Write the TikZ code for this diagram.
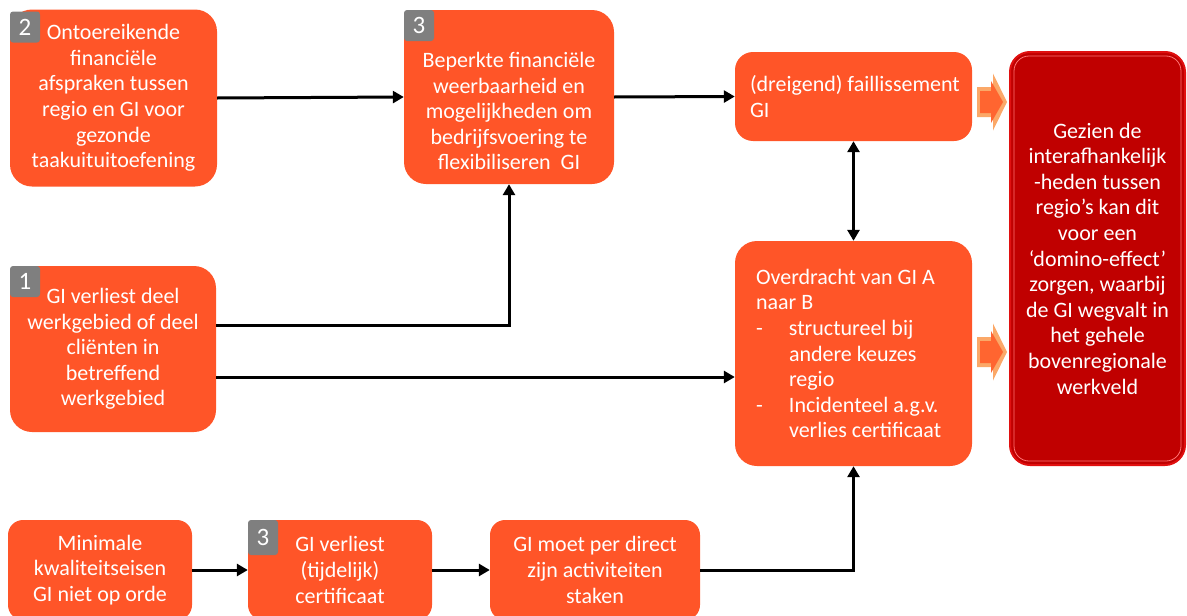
\documentclass[tikz,border=0pt]{standalone}
\usepackage{fontspec}
\setmainfont{Carlito}
\usetikzlibrary{arrows.meta}

\definecolor{boxorange}{HTML}{FF5528}
\definecolor{boxred}{HTML}{C00000}
\definecolor{redrim}{HTML}{E01010}
\definecolor{badgegray}{HTML}{7F7F7F}
\definecolor{arrowlight}{HTML}{FBA868}
\definecolor{arrowmid}{HTML}{FF6530}

\newcommand\boxfont{\fontsize{22}{25.6}\selectfont}
\newcommand\blockarrow[1]{%
  \begin{scope}[shift={(#1)}]
    \fill[arrowlight] (0,0) -- (-14,-28.5) -- (-14,-15) -- (-30,-15) -- (-30,15) -- (-14,15) -- (-14,28.5) -- cycle;
    \fill[arrowmid] (-4,0) -- (-16,-21) -- (-16,-11) -- (-27,-11) -- (-27,11) -- (-16,11) -- (-16,21) -- cycle;
  \end{scope}}

\begin{document}
\begin{tikzpicture}[x=1pt,y=-1pt,
    box/.style={rounded corners=22pt, fill=boxorange, text=white, font=\boxfont, align=center, inner sep=0pt},
    lowbox/.style={box, rounded corners=15pt, minimum width=184pt, minimum height=100pt},
    badge/.style={rounded corners=3pt, fill=badgegray, text=white, font=\fontsize{25}{25}\selectfont, minimum width=30pt, minimum height=31pt, inner sep=0pt, anchor=north west},
    conn/.style={line width=3pt, -{Triangle[length=11pt,width=12pt]}},
    dconn/.style={line width=3pt, {Triangle[length=11pt,width=12pt]}-{Triangle[length=11pt,width=12pt]}}]
\useasboundingbox (0,0) rectangle (1187,616);

% upper row
\node[box, minimum width=207pt, minimum height=177pt] (fin) at (113.5,98)
  {Ontoereikende\\financi\"ele\\afspraken tussen\\regio en GI voor\\gezonde\\taakuituitoefening};
\node[box, minimum width=210pt, minimum height=174pt] (weer) at (509,97)
  {\parbox[c][146pt][b]{204pt}{\centering Beperkte financi\"ele\\weerbaarheid en\\mogelijkheden om\\bedrijfsvoering te\\flexibiliseren~ GI}};
\node[box, rounded corners=18pt, minimum width=237pt, minimum height=89pt, text width=207pt, align=flush left] (fail) at (853.5,96.5)
  {\mbox{(dreigend) faillissement}\\GI};

% middle row
\node[box, minimum width=206pt, minimum height=166pt] (werk) at (113,349)
  {GI verliest deel\\werkgebied of deel\\cli\"enten in\\betreffend\\werkgebied};
\node[box, minimum width=237pt, minimum height=225pt, text width=195pt, align=flush left] (over) at (853.5,353.5)
  {Overdracht van GI A\\naar B\\
   \makebox[33pt][l]{-}structureel bij\\
   \makebox[33pt][l]{}andere keuzes\\
   \makebox[33pt][l]{}regio\\
   \makebox[33pt][l]{-}Incidenteel a.g.v.\\
   \makebox[33pt][l]{}verlies certificaat};

% domino box
\node[box, fill=boxred, draw=redrim, line width=2pt, rounded corners=20pt, minimum width=175pt, minimum height=413pt] (dom) at (1097.5,258.5)
  {Gezien de\\interafhankelijk\\-heden tussen\\regio's kan dit\\voor een\\`domino-effect'\\zorgen, waarbij\\de GI wegvalt in\\het gehele\\bovenregionale\\werkveld};
\draw[red!55!white, line width=0.8pt, rounded corners=15pt] ([shift={(5pt,-5pt)}]dom.north west) rectangle ([shift={(-5pt,5pt)}]dom.south east);

% lower row
\node[lowbox] (kwal) at (100,570) {Minimale\\kwaliteitseisen\\GI niet op orde};
\node[lowbox] (cert) at (340,570) {GI verliest\\(tijdelijk)\\certificaat};
\node[lowbox, minimum width=210pt] (stak) at (595,570) {GI moet per direct\\zijn activiteiten\\staken};

% badges
\node[badge] (n2) at ([yshift=-2pt]fin.north west) {2};
\node[badge] (n3a) at (weer.north west) {3};
\node[badge] (n1) at (werk.north west) {1};
\node[badge, minimum height=35pt] (n3b) at (cert.north west) {3};

% connectors
\coordinate (werkhi) at ([yshift=24pt]werk.east);
\coordinate (werklo) at ([yshift=-28pt]werk.east);
\draw[conn] (fin.east) -- (weer.west);
\draw[conn] (weer.east) -- (fail.west);
\draw[conn] (werkhi) -| (weer.south);
\draw[conn] (werklo) -- (werklo -| over.west);
\draw[dconn] (fail.south) -- (over.north);
\draw[conn] (kwal.east) -- (cert.west);
\draw[conn] (cert.east) -- (stak.west);
\draw[conn] (stak.east) -| (over.south);

% block arrows into domino box
\coordinate (tipA) at (1007,102);
\coordinate (tipB) at (1007,352);
\blockarrow{tipA}
\blockarrow{tipB}
\end{tikzpicture}
\end{document}
